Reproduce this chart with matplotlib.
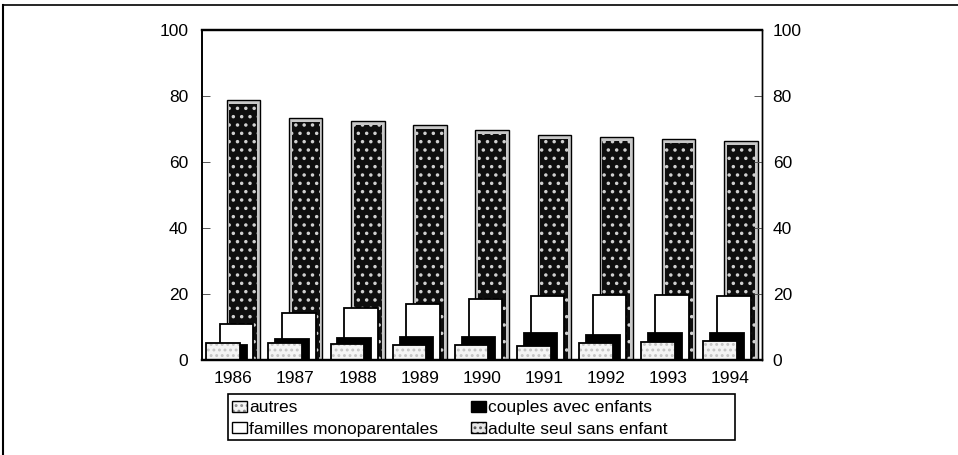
import matplotlib
matplotlib.use("Agg")
import matplotlib.pyplot as plt
from matplotlib.patches import Patch, Rectangle
from matplotlib.lines import Line2D
from matplotlib.legend_handler import HandlerTuple
import numpy as np

plt.rcParams['font.family'] = ['Liberation Sans', 'DejaVu Sans']
plt.rcParams['hatch.linewidth'] = 1.3

years = ['1986', '1987', '1988', '1989', '1990', '1991', '1992', '1993', '1994']
autres = [5.2, 5.2, 4.8, 4.4, 4.5, 4.2, 5.2, 5.5, 5.8]
couples = [4.5, 6.4, 6.7, 6.9, 6.9, 8.2, 7.6, 8.2, 8.2]
familles = [10.9, 14.3, 15.8, 17.0, 18.5, 19.4, 19.7, 19.7, 19.4]
adulte = [78.8, 73.3, 72.4, 71.2, 69.7, 68.2, 67.6, 67.0, 66.4]
labels = ['autres', 'couples avec enfants', 'familles monoparentales', 'adulte seul sans enfant']
yticks = [0, 20, 40, 60, 80, 100]

FS = 12.5
fig = plt.figure(figsize=(9.58, 4.55), dpi=100)
ax = fig.add_axes([0.211, 0.209, 0.584, 0.725])
x = np.arange(len(years))
w = 0.54

# back: adulte seul sans enfant (speckled)
ax.bar(x + 0.165, adulte, w, facecolor='#c8c8c8', edgecolor='black', linewidth=1.0, zorder=2)
ax.bar(x + 0.165, np.array(adulte) - 1.2, w - 0.09, facecolor='#0e0e0e', hatch='..',
       edgecolor='#d0d0d0', linewidth=0, zorder=2.1)
# familles monoparentales (white)
ax.bar(x + 0.055, familles, w, facecolor='white', edgecolor='black', linewidth=1.3, zorder=3)
# couples avec enfants (black)
ax.bar(x - 0.055, couples, w, facecolor='black', edgecolor='black', linewidth=1.3, zorder=4)
# autres (light dotted), front
ax.bar(x - 0.165, autres, w, facecolor='#f4f4f4', hatch='...', edgecolor='#c4c4c4', linewidth=0, zorder=5)
ax.bar(x - 0.165, autres, w, fill=False, edgecolor='black', linewidth=1.3, zorder=5.1)

ax.set_xlim(-0.5, 8.5)
ax.set_ylim(0, 100)
ax.set_xticks(x)
ax.set_xticklabels(years, fontsize=FS)
ax.set_yticks(yticks)
ax.set_yticklabels([str(t) for t in yticks], fontsize=FS)
ax.tick_params(axis='x', length=0, pad=8)
ax.tick_params(axis='y', direction='in', length=6, width=0.7, color='#555555', pad=10)

ax2 = ax.twinx()
ax2.set_ylim(0, 100)
ax2.set_yticks(yticks)
ax2.set_yticklabels([str(t) for t in yticks], fontsize=FS)
ax2.tick_params(axis='y', direction='in', length=6, width=0.7, color='#555555', pad=8)

for a in (ax, ax2):
    for s, lw in (('top', 1.6), ('bottom', 1.6), ('left', 1.2), ('right', 1.0)):
        a.spines[s].set_linewidth(lw)
        a.spines[s].set_color('black')
ax.spines['bottom'].set_zorder(6)

# legend
tup = HandlerTuple(ndivide=1, pad=0)
h_aut = (Patch(facecolor='#f4f4f4', hatch='...', edgecolor='#909090', linewidth=0),
         Patch(fill=False, edgecolor='black', linewidth=1.0))
h_cou = Patch(facecolor='black', edgecolor='black', linewidth=1.0)
h_fam = Patch(facecolor='white', edgecolor='black', linewidth=1.0)
h_adu = (Patch(facecolor='#e6e6e6', hatch='...', edgecolor='#555555', linewidth=0),
         Patch(fill=False, edgecolor='black', linewidth=1.0))
leg = fig.legend([h_aut, h_fam, h_cou, h_adu],
                 [labels[0], labels[2], labels[1], labels[3]],
                 handler_map={tuple: tup},
                 ncol=2, loc='upper left', bbox_to_anchor=(0.239, 0.128),
                 bbox_transform=fig.transFigure, frameon=False, fontsize=FS,
                 handlelength=0.86, handleheight=0.58, handletextpad=0.12,
                 labelspacing=0.38, columnspacing=1.9, borderpad=0.2, borderaxespad=0)
fig.add_artist(Rectangle((228 / 958, 1 - 440 / 455), (735 - 228) / 958, (440 - 394) / 455,
                         transform=fig.transFigure, fill=False, edgecolor='black', linewidth=1.2))

# outer scan frame (top and left edges)
fig.add_artist(Line2D([0.003, 1.0], [1 - 4.5 / 455, 1 - 4.5 / 455], transform=fig.transFigure,
                      color='black', linewidth=1.2))
fig.add_artist(Line2D([3 / 958, 3 / 958], [0, 1 - 4.5 / 455], transform=fig.transFigure,
                      color='black', linewidth=1.5))

fig.savefig('out.png', dpi=100)
